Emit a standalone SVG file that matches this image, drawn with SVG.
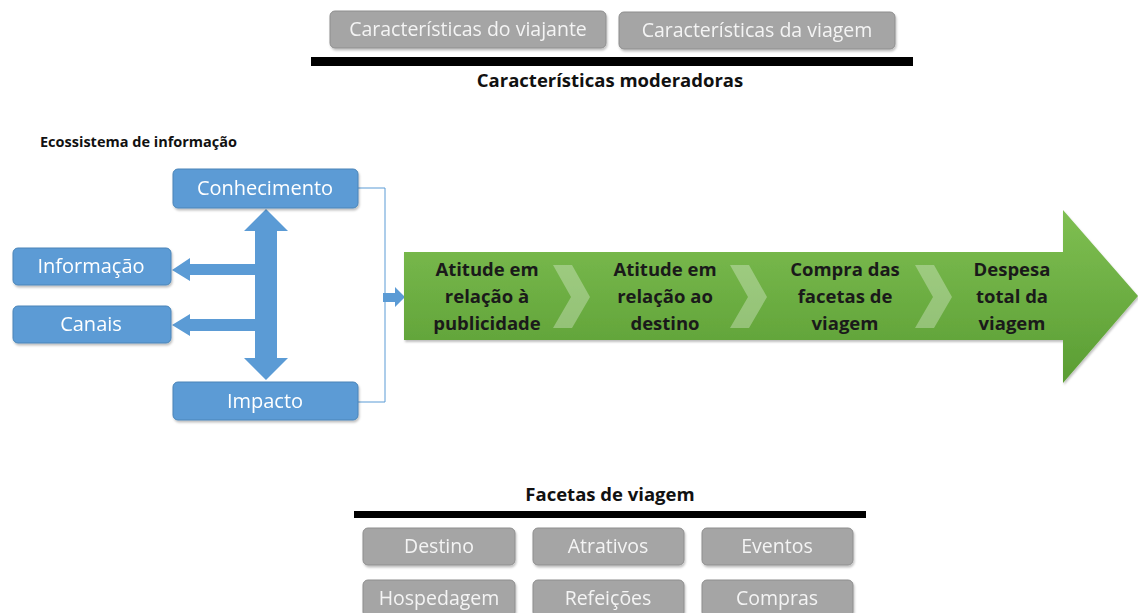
<svg xmlns="http://www.w3.org/2000/svg" width="1138" height="613" viewBox="0 0 1138 613">
<defs>
<linearGradient id="gg" x1="0" y1="0" x2="0" y2="1">
<stop offset="0" stop-color="#7fbf52"/>
<stop offset="1" stop-color="#5a9d33"/>
</linearGradient>
<filter id="sh" x="-5%" y="-10%" width="110%" height="130%">
<feDropShadow dx="1" dy="2" stdDeviation="1.2" flood-color="#000" flood-opacity="0.25"/>
</filter>
</defs>
<style>
.gray rect{fill:#a5a5a5;stroke:#8e8e8e;stroke-width:1}
.gray text{fill:#f4f4f4;font-family:"Open Sans","Liberation Sans",sans-serif;font-size:19.5px;text-anchor:middle}
.blue rect{fill:#5b9bd5;stroke:#4a84b8;stroke-width:1}
.blue text{fill:#ffffff;font-family:"Open Sans","Liberation Sans",sans-serif;font-size:20px;text-anchor:middle}
.bold{font-family:"Open Sans","Liberation Sans",sans-serif;font-weight:bold;fill:#111}
.gtxt{font-family:"Open Sans","Liberation Sans",sans-serif;font-weight:bold;font-size:18.5px;fill:#1a1a1a;text-anchor:middle}
.arr{fill:#5b9bd5}
.chev{fill:#ffffff;fill-opacity:0.3}
</style>

<g id="travelerChars" class="gray" filter="url(#sh)"><rect x="330" y="11" width="276" height="37" rx="5"/><text x="468" y="36">Características do viajante</text></g>
<g id="tripChars" class="gray" filter="url(#sh)"><rect x="619" y="12" width="276" height="37" rx="5"/><text x="757" y="37">Características da viagem</text></g>
<rect x="311" y="57" width="602" height="9" fill="#000"/>
<text class="bold" x="610" y="87" font-size="18.5" text-anchor="middle">Características moderadoras</text>

<text class="bold" x="40" y="147" font-size="14.5">Ecossistema de informação</text>

<g id="connectors">
<path d="M358,188 H385 V402 H358" fill="none" stroke="#5b9bd5" stroke-width="1"/>
<polygon class="arr" points="383,293 395,293 395,287 405,297 395,307 395,302 383,302"/>
<polygon class="arr" points="266,209 288,231 277,231 277,358 288,358 266,380 244,358 255,358 255,231 244,231"/>
<polygon class="arr" points="255,264 190,264 190,258 172,270 190,281 190,275 255,275"/>
<polygon class="arr" points="255,319 190,319 190,314 172,325 190,336 190,331 255,331"/>
</g>

<g id="conhecimento" class="blue" filter="url(#sh)"><rect x="173" y="169" width="185" height="39" rx="5"/><text x="265" y="195">Conhecimento</text></g>
<g id="informacao" class="blue" filter="url(#sh)"><rect x="13" y="248" width="158" height="37" rx="5"/><text x="91" y="273">Informação</text></g>
<g id="canais" class="blue" filter="url(#sh)"><rect x="13" y="306" width="158" height="37" rx="5"/><text x="91" y="331">Canais</text></g>
<g id="impacto" class="blue" filter="url(#sh)"><rect x="173" y="382" width="185" height="38" rx="5"/><text x="265" y="408">Impacto</text></g>

<g id="process">
<polygon points="404,252 1063,252 1063,210 1138,296 1063,383 1063,340 404,340" fill="url(#gg)" filter="url(#sh)"/>
<polygon class="chev" points="553,265 572,265 590,297 572,328 553,328 571,297"/>
<polygon class="chev" points="730,265 749,265 767,297 749,328 730,328 748,297"/>
<polygon class="chev" points="915,265 934,265 952,297 934,328 915,328 933,297"/>
<text class="gtxt"><tspan x="487" y="276">Atitude em</tspan><tspan x="487" y="303">relação à</tspan><tspan x="487" y="330">publicidade</tspan></text>
<text class="gtxt"><tspan x="665" y="276">Atitude em</tspan><tspan x="665" y="303">relação ao</tspan><tspan x="665" y="330">destino</tspan></text>
<text class="gtxt"><tspan x="845" y="276">Compra das</tspan><tspan x="845" y="303">facetas de</tspan><tspan x="845" y="330">viagem</tspan></text>
<text class="gtxt"><tspan x="1012" y="276">Despesa</tspan><tspan x="1012" y="303">total da</tspan><tspan x="1012" y="330">viagem</tspan></text>
</g>

<text class="bold" x="610" y="501" font-size="18.5" text-anchor="middle">Facetas de viagem</text>
<rect x="354" y="511" width="512" height="7" fill="#000"/>

<g id="destino" class="gray" filter="url(#sh)"><rect x="363" y="528" width="152" height="37" rx="5"/><text x="439" y="553">Destino</text></g>
<g id="atrativos" class="gray" filter="url(#sh)"><rect x="533" y="528" width="151" height="37" rx="5"/><text x="608" y="553">Atrativos</text></g>
<g id="eventos" class="gray" filter="url(#sh)"><rect x="702" y="528" width="151" height="37" rx="5"/><text x="777" y="553">Eventos</text></g>
<g id="hospedagem" class="gray" filter="url(#sh)"><rect x="363" y="580" width="152" height="37" rx="5"/><text x="439" y="605">Hospedagem</text></g>
<g id="refeicoes" class="gray" filter="url(#sh)"><rect x="533" y="580" width="151" height="37" rx="5"/><text x="608" y="605">Refeições</text></g>
<g id="compras" class="gray" filter="url(#sh)"><rect x="702" y="580" width="151" height="37" rx="5"/><text x="777" y="605">Compras</text></g>
</svg>
